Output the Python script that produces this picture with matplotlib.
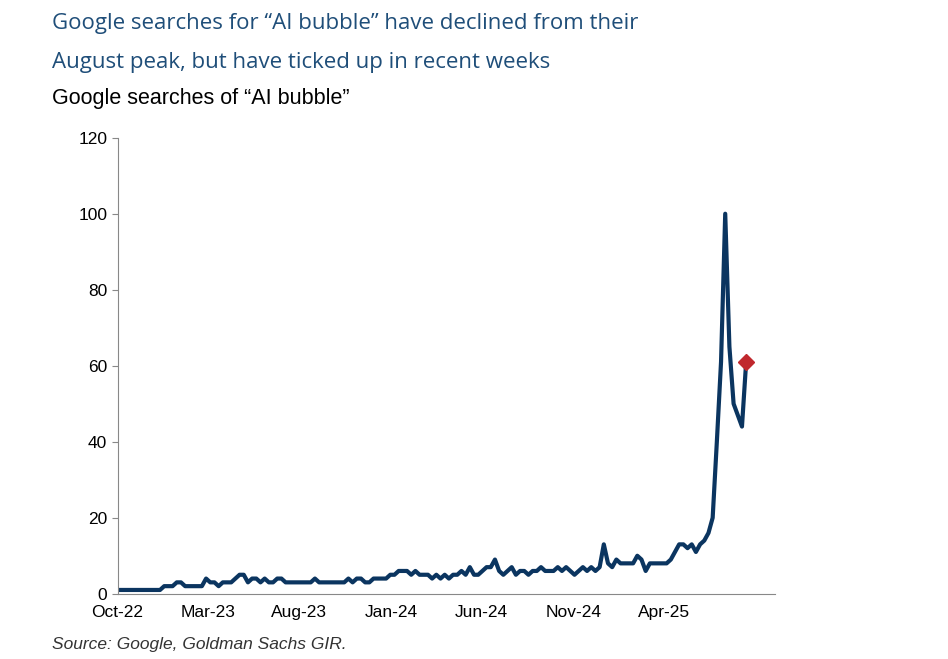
import numpy as np
import pandas as pd
import matplotlib.pyplot as plt
import matplotlib.dates as mdates

values = [1, 1, 1, 1, 1, 1, 1, 1, 1, 1,
          1, 2, 2, 2, 3, 3, 2, 2, 2, 2,
          2, 4, 3, 3, 2, 3, 3, 3, 4, 5,
          5, 3, 4, 4, 3, 4, 3, 3, 4, 4,
          3, 3, 3, 3, 3, 3, 3, 4, 3, 3,
          3, 3, 3, 3, 3, 4, 3, 4, 4, 3,
          3, 4, 4, 4, 4, 5, 5, 6, 6, 6,
          5, 6, 5, 5, 5, 4, 5, 4, 5, 4,
          5, 5, 6, 5, 7, 5, 5, 6, 7, 7,
          9, 6, 5, 6, 7, 5, 6, 6, 5, 6,
          6, 7, 6, 6, 6, 7, 6, 7, 6, 5,
          6, 7, 6, 7, 6, 7, 13, 8, 7, 9,
          8, 8, 8, 8, 10, 9, 6, 8, 8, 8,
          8, 8, 9, 11, 13, 13, 12, 13, 11, 13,
          14, 16, 20, 40, 61, 100, 65, 50, 47, 44,
          61]
dates = pd.date_range('2022-10-02', periods=len(values), freq='7D')
tick_labels = ['Oct-22', 'Mar-23', 'Aug-23', 'Jan-24', 'Jun-24', 'Nov-24', 'Apr-25']
tick_dates = pd.to_datetime(['2022-10-01', '2023-03-01', '2023-08-01', '2024-01-01',
                             '2024-06-01', '2024-11-01', '2025-04-01'])

fig = plt.figure(figsize=(9.48, 6.59), dpi=100)
ax = fig.add_axes([0.124, 0.099, 0.694, 0.692])

ax.plot(dates, values, color='#0B3560', lw=3)
ax.plot(dates[-1], values[-1], marker='D', color='#C0282D', ms=8, ls='none', zorder=5)

ax.set_ylim(0, 120)
ax.set_yticks(range(0, 121, 20))
ax.set_xlim(pd.Timestamp('2022-10-01'), pd.Timestamp('2025-10-05'))
ax.set_xticks(tick_dates)
ax.set_xticklabels(tick_labels)
ax.tick_params(labelsize=12.5, direction='out', length=4, color='#888888')
for lab in ax.get_xticklabels() + ax.get_yticklabels():
    lab.set_fontfamily('Liberation Sans')
ax.tick_params(axis='x', length=0, pad=8)
for s in ['top', 'right']:
    ax.spines[s].set_visible(False)
for s in ['left', 'bottom']:
    ax.spines[s].set_color('#888888')

fig.text(0.055, 0.965, 'Google searches for \u201cAI bubble\u201d have declined from their',
         fontsize=16, color='#1F4E79', family='Open Sans', va='center')
fig.text(0.055, 0.905, 'August peak, but have ticked up in recent weeks',
         fontsize=16, color='#1F4E79', family='Open Sans', va='center')
fig.text(0.055, 0.85, 'Google searches of \u201cAI bubble\u201d',
         fontsize=15.5, color='black', family='Liberation Sans', va='center')
fig.text(0.055, 0.015, 'Source: Google, Goldman Sachs GIR.',
         fontsize=12.5, style='italic', color='#333333', family='Liberation Sans')

fig.savefig('out.png', dpi=100)
